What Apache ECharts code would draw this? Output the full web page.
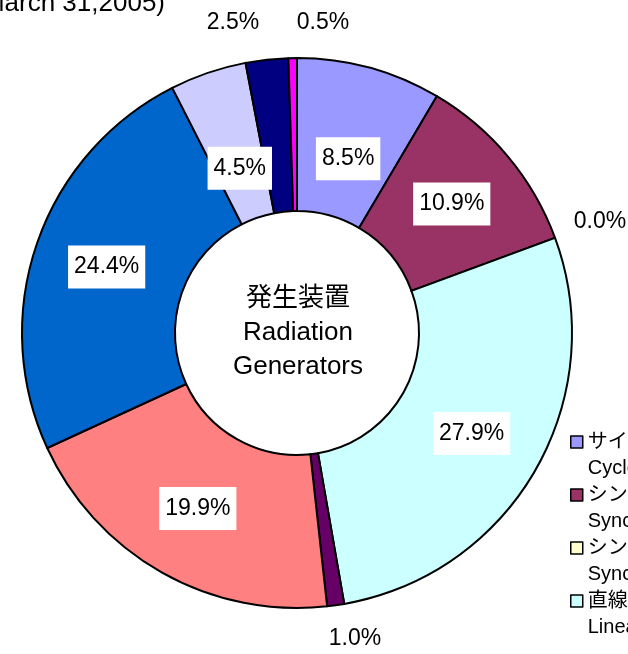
<!DOCTYPE html>
<html>
<head>
<meta charset="utf-8">
<script src="https://cdn.jsdelivr.net/npm/echarts@6/dist/echarts.min.js"></script>
<style>
  html, body { margin: 0; padding: 0; background: #fff; }
  #chart { width: 628px; height: 654px; }
</style>
</head>
<body>
<div id="chart"></div>
<script>
// 装置の種類（日本語 + 英語）
var names = [
  'サイクロトロン\nCyclotron',
  'シンクロトロン\nSynchrotron',
  'シンクロトロン放射光\nSynchrotron Radiation',
  '直線加速器\nLinear Accelerator',
  'ベータトロン\nBetatron',
  'ファン・デ・グラーフ型加速装置\nVan de Graaff',
  'コッククロフト・ワルトン型加速装置\nCockcroft-Walton',
  '変圧器型加速装置\nTransformer Type',
  'マイクロトロン\nMicrotron',
  'その他\nOthers'
];
// 割合 (%)
var values = [8.5, 10.9, 0.0, 27.9, 1.0, 19.9, 24.4, 4.5, 2.5, 0.5];
var colors = ['#9999FF', '#993366', '#FFFFCC', '#CCFFFF', '#660066',
              '#FF8080', '#0066CC', '#CCCCFF', '#000080', '#FF00FF'];

var font = '"Liberation Sans", "Noto Sans CJK JP", sans-serif';

// 小さい扇形のラベルは外側に置く
var outsidePos = { 2: [600, 222], 4: [355, 639], 8: [233, 23], 9: [323, 23] };
var nudge = { 0: [-2, 20], 7: [8, 26] };

var pieData = [];
for (var i = 0; i < values.length; i++) {
  var item = { name: names[i], value: values[i], itemStyle: { color: colors[i] } };
  if (outsidePos[i]) {
    item.label = { backgroundColor: 'transparent', padding: 0 };
  }
  pieData.push(item);
}

// 凡例マーカーを1行目に揃えるため、下に空白を持つ四角
var legendIcon = 'path://M0,0H12V12H0Z M0,38';

var myChart = echarts.init(document.getElementById('chart'));
var option = {
  backgroundColor: '#fff',
  animation: false,
  graphic: [
    {
      type: 'text',
      x: 165, y: 4,
      style: {
        text: '(As of March 31,2005)',
        font: '26px ' + font,
        fill: '#000',
        align: 'right',
        verticalAlign: 'middle'
      }
    },
    {
      type: 'text',
      x: 298, y: 333,
      style: {
        text: '発生装置\nRadiation\nGenerators',
        font: '26px ' + font,
        lineHeight: 34,
        fill: '#000',
        align: 'center',
        verticalAlign: 'middle'
      }
    }
  ],
  legend: {
    orient: 'vertical',
    left: 565,
    top: 424,
    itemWidth: 12,
    itemHeight: 38,
    itemGap: 1,
    icon: legendIcon,
    itemStyle: { borderColor: '#000', borderWidth: 1.5 },
    textStyle: {
      fontFamily: font,
      fontSize: 20,
      lineHeight: 26,
      color: '#000'
    },
    data: names
  },
  series: [{
    type: 'pie',
    center: [297, 333],
    radius: [122, 275],
    startAngle: 90,
    clockwise: true,
    avoidLabelOverlap: false,
    silent: true,
    itemStyle: { borderColor: '#000', borderWidth: 2 },
    label: {
      show: true,
      position: 'inside',
      formatter: function (p) { return p.value.toFixed(1) + '%'; },
      fontFamily: font,
      fontSize: 23,
      color: '#000',
      backgroundColor: '#fff',
      padding: [11, 6, 9, 6]
    },
    labelLine: { show: false },
    labelLayout: function (params) {
      var idx = params.dataIndex;
      if (outsidePos[idx]) {
        return { x: outsidePos[idx][0], y: outsidePos[idx][1], align: 'center', verticalAlign: 'middle' };
      }
      if (nudge[idx]) {
        return { dx: nudge[idx][0], dy: nudge[idx][1] };
      }
      return {};
    },
    data: pieData
  }]
};
myChart.setOption(option);
</script>
</body>
</html>
